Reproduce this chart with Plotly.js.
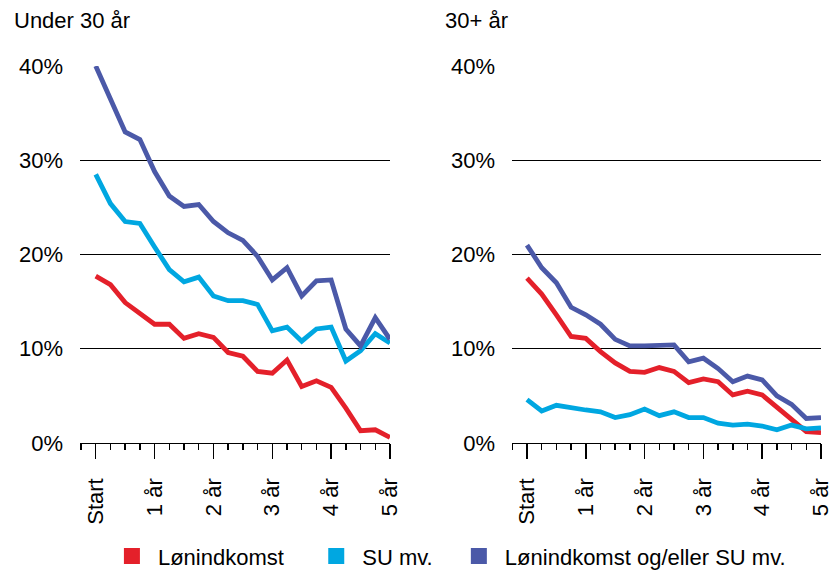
<!DOCTYPE html>
<html>
<head>
<meta charset="utf-8">
<script src="https://cdn.plot.ly/plotly-3.0.1.min.js"></script>
<style>
html,body{margin:0;padding:0;background:#fff;}
#chart{width:834px;height:571px;}
</style>
</head>
<body>
<div id="chart"></div>
<script>
// Quarters since start (0 = Start, 4 = 1 år, ..., 20 = 5 år)
const quarters = [0,1,2,3,4,5,6,7,8,9,10,11,12,13,14,15,16,17,18,19,20];
const tickVals = [0,4,8,12,16,20];
const tickLabels = ["Start","1 år","2 år","3 år","4 år","5 år"];
const yTicks = [0,10,20,30,40];

const seriesNames = ["Lønindkomst","SU mv.","Lønindkomst og/eller SU mv."];
const seriesColors = ["#e4202a","#00a7e1","#4b59a8"];

// Under 30 år
const u30_lon  = [17.7,16.8,14.9,13.8,12.6,12.6,11.1,11.6,11.2,9.6,9.2,7.6,7.4,8.8,6.0,6.6,5.9,3.7,1.3,1.4,0.6];
const u30_su   = [28.5,25.4,23.5,23.3,20.8,18.4,17.1,17.6,15.6,15.1,15.1,14.7,11.9,12.3,10.8,12.1,12.3,8.7,9.8,11.6,10.6];
const u30_both = [40.0,36.4,33.0,32.2,28.8,26.2,25.1,25.3,23.5,22.3,21.5,19.8,17.3,18.6,15.6,17.2,17.3,12.1,10.3,13.3,11.0];

// 30+ år
const o30_lon  = [17.5,15.8,13.6,11.3,11.1,9.7,8.5,7.6,7.5,8.0,7.6,6.4,6.8,6.5,5.1,5.5,5.1,3.8,2.4,1.2,1.1];
const o30_su   = [4.6,3.4,4.0,3.7,3.5,3.3,2.7,3.0,3.6,2.9,3.3,2.7,2.7,2.1,1.9,2.0,1.8,1.4,1.9,1.5,1.6];
const o30_both = [21.0,18.6,17.0,14.4,13.6,12.6,11.0,10.3,10.3,10.4,10.4,8.6,9.0,7.9,6.5,7.1,6.7,5.0,4.1,2.6,2.7];

const FONT = '"Liberation Sans", Arial, Helvetica, sans-serif';

function lineTrace(y, i, xa, ya) {
  return {
    x: quarters, y: y, type: 'scatter', mode: 'lines',
    xaxis: xa, yaxis: ya,
    line: {color: seriesColors[i], width: 4.8},
    cliponaxis: false, showlegend: false, hoverinfo: 'skip'
  };
}

const traces = [
  lineTrace(u30_lon, 0, 'x', 'y'),
  lineTrace(u30_su, 1, 'x', 'y'),
  lineTrace(u30_both, 2, 'x', 'y'),
  lineTrace(o30_lon, 0, 'x2', 'y2'),
  lineTrace(o30_su, 1, 'x2', 'y2'),
  lineTrace(o30_both, 2, 'x2', 'y2')
];

const legendNames = ['legend','legend2','legend3'];
seriesNames.forEach(function(n, i){
  traces.push({
    x: [null], y: [null], type: 'scatter', mode: 'markers',
    name: n, legend: legendNames[i],
    marker: {symbol: 'square', size: 16, color: seriesColors[i]},
    showlegend: true, hoverinfo: 'skip'
  });
});

function xAxis(domain, lo) {
  return {
    domain: domain, range: [lo, 20], showgrid: false, zeroline: false,
    showline: true, linecolor: '#000', linewidth: 1.5,
    tickmode: 'array', tickvals: tickVals, ticktext: tickLabels,
    ticks: 'outside', ticklen: 15, tickwidth: 1.5, tickcolor: '#000',
    tickangle: -90, ticklabelstandoff: 10, automargin: false,
    minor: {tickmode: 'linear', tick0: 0, dtick: 1, ticks: 'outside', ticklen: 6, tickwidth: 1.5, tickcolor: '#000', showgrid: false},
    tickfont: {family: FONT, size: 22, color: '#000'},
    fixedrange: true
  };
}
function yAxis(anchor) {
  return {
    domain: [0.2242, 0.8844], range: [0, 40], anchor: anchor,
    tickmode: 'array', tickvals: yTicks, ticktext: yTicks.map(v => v + '%'),
    showgrid: true, gridcolor: '#000', gridwidth: 1.2, zeroline: false,
    showline: false, ticks: '', ticklabelstandoff: 16, automargin: false,
    tickfont: {family: FONT, size: 22, color: '#000'},
    fixedrange: true
  };
}

function legendBox(x) {
  return {
    orientation: 'h', x: x, xanchor: 'left', y: 0.026, yanchor: 'middle',
    xref: 'paper', yref: 'paper', bgcolor: 'rgba(0,0,0,0)', itemwidth: 42,
    font: {family: FONT, size: 22, color: '#000'}, itemclick: false, itemdoubleclick: false
  };
}

const layout = {
  width: 834, height: 571,
  margin: {l: 0, r: 0, t: 0, b: 0, pad: 0, autoexpand: false},
  paper_bgcolor: '#fff', plot_bgcolor: '#fff',
  font: {family: FONT, size: 22, color: '#000'},
  xaxis: Object.assign(xAxis([80/834, 390/834], -1.07), {anchor: 'y'}),
  yaxis: yAxis('x'),
  xaxis2: Object.assign(xAxis([512/834, 821/834], -1.02), {anchor: 'y2'}),
  yaxis2: yAxis('x2'),
  legend: legendBox(0.127),
  legend2: legendBox(0.372),
  legend3: legendBox(0.543),
  annotations: [
    {text: 'Under 30 år', xref: 'paper', yref: 'paper', x: 12/834, y: (571-20)/571, xanchor: 'left', yanchor: 'middle', showarrow: false, font: {family: FONT, size: 22, color: '#000'}},
    {text: '30+ år', xref: 'paper', yref: 'paper', x: 443/834, y: (571-20)/571, xanchor: 'left', yanchor: 'middle', showarrow: false, font: {family: FONT, size: 22, color: '#000'}}
  ],
  showlegend: true
};

Plotly.newPlot('chart', traces, layout, {displayModeBar: false, staticPlot: true});
</script>
</body>
</html>
